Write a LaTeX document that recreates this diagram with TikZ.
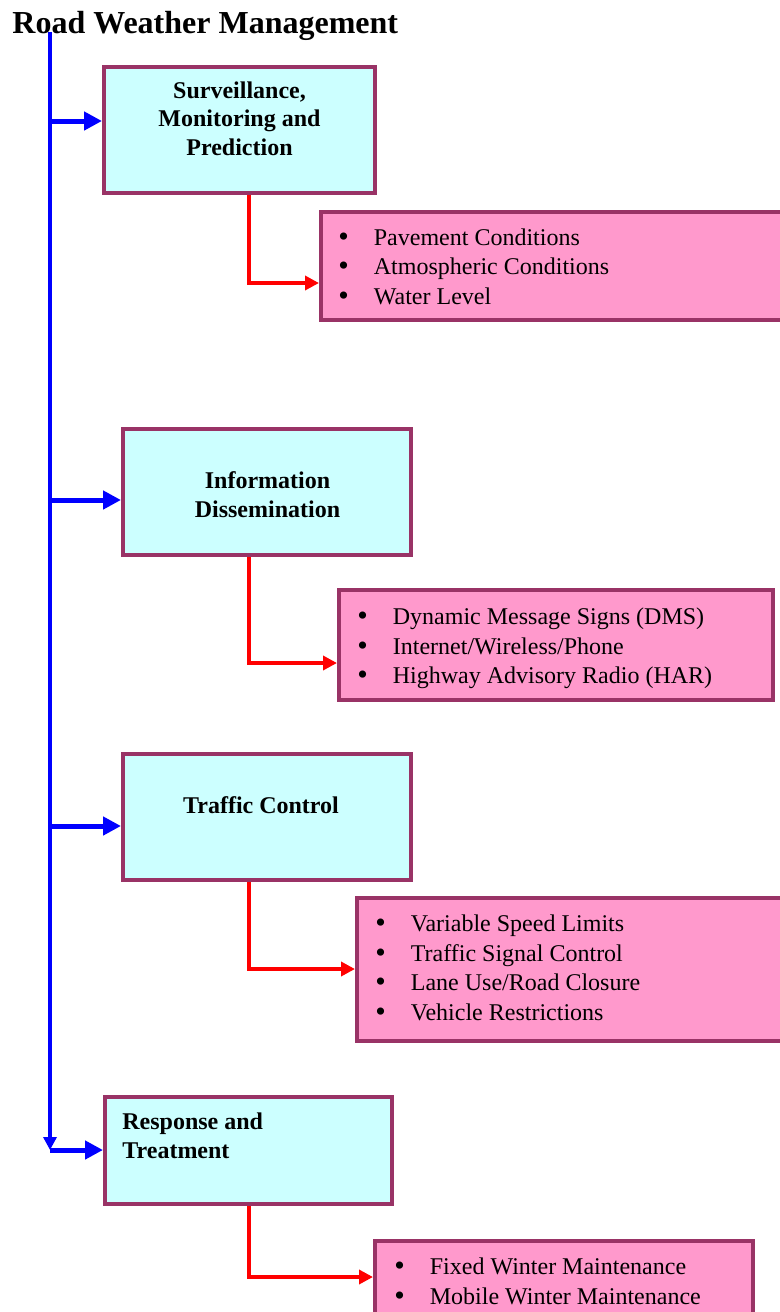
\documentclass[tikz,border=0pt]{standalone}
\usepackage{fontspec}
\setmainfont{Liberation Serif}
\usetikzlibrary{arrows.meta}

\definecolor{boxline}{HTML}{993366}
\definecolor{headfill}{HTML}{CCFFFF}
\definecolor{listfill}{HTML}{FF99CC}

\tikzset{
  headbox/.style={draw=boxline, fill=headfill, line width=2pt, inner sep=0pt},
  listbox/.style={draw=boxline, fill=listfill, line width=2pt, inner sep=0pt},
  headtext/.style={font=\fontsize{12}{14.25}\selectfont\bfseries, align=center, inner sep=0pt},
  listtext/.style={font=\fontsize{12}{14.75}\selectfont, align=left, anchor=base west, inner sep=0pt},
  spine/.style={blue, line width=2pt, -{Triangle[length=6.5pt,width=6.5pt]}},
  branch/.style={blue, line width=2.5pt, -{Triangle[length=9pt,width=9pt]}},
  feed/.style={red, line width=2pt, -{Triangle[length=7pt,width=7pt]}},
}
\newcommand{\itembul}{\makebox[17.75pt][l]{\raisebox{-0.7pt}{\fontsize{15}{15}\selectfont\textbullet}}}

\begin{document}
\begin{tikzpicture}[x=0.5pt,y=-0.5pt]
    \useasboundingbox (0,0) rectangle (780,1312);
    \clip (0,0) rectangle (780,1312);

    % title
    \node[font=\fontsize{16}{19}\selectfont\bfseries, anchor=base west, inner sep=0pt] (title) at (12,33) {Road Weather Management};

    % main boxes
    \node[headbox, minimum width=135.5pt, minimum height=63pt] (surv) at (239.5,130) {};
    \node[headbox, minimum width=144pt, minimum height=63pt] (info) at (267,492) {};
    \node[headbox, minimum width=144pt, minimum height=63pt] (traffic) at (267,817) {};
    \node[headbox, minimum width=143.5pt, minimum height=53.5pt] (resp) at (248.5,1150.5) {};

    % texts sit on the baseline of their last line
    \node[headtext, anchor=base] (survtext) at (239.5,155) {Surveillance,\\Monitoring and\\Prediction};
    \node[headtext, anchor=base] (infotext) at (267.5,517) {Information\\Dissemination};
    \node[headtext, anchor=base] (traffictext) at (261,813) {Traffic Control};
    \node[headtext, align=left, anchor=base west] (resptext) at (122,1158) {Response and\\Treatment};

    % item boxes
    \node[listbox, minimum width=242pt, minimum height=54pt] (survlist) at (563,266) {};
    \node[listbox, minimum width=217pt, minimum height=55pt] (infolist) at (556,645) {};
    \node[listbox, minimum width=224pt, minimum height=71.5pt] (trafficlist) at (581,969.5) {};
    \node[listbox, minimum width=189pt, minimum height=49.5pt] (resplist) at (564,1290.5) {};

    \node[listtext] (survitems) at (338,304) {\itembul Pavement Conditions\\\itembul Atmospheric Conditions\\\itembul Water Level};
    \node[listtext] (infoitems) at (357,683.5) {\itembul Dynamic Message Signs (DMS)\\\itembul Internet/Wireless/Phone\\\itembul Highway Advisory Radio (HAR)};
    \node[listtext] (trafficitems) at (375,1020) {\itembul Variable Speed Limits\\\itembul Traffic Signal Control\\\itembul Lane Use/Road Closure\\\itembul Vehicle Restrictions};
    \node[listtext] (respitems) at (394,1304) {\itembul Fixed Winter Maintenance\\\itembul Mobile Winter Maintenance};

    % blue spine and branches
    \coordinate (top) at (50,32);
    \coordinate (s1) at (50,121);
    \coordinate (s2) at (50,500);
    \coordinate (s3) at (50,826);
    \coordinate (s4) at (50,1150);
    \draw[spine] (top) -- (s4);
    \draw[branch] (s1) -- (s1 -| surv.west);
    \draw[branch] (s2) -- (s2 -| info.west);
    \draw[branch] (s3) -- (s3 -| traffic.west);
    \draw[branch] (s4) -- (s4 -| resp.west);

    % red feeds to the item boxes
    \coordinate (r1) at (248.5,283);
    \coordinate (r2) at (248.5,663);
    \coordinate (r3) at (248.5,969);
    \coordinate (r4) at (248.5,1277);
    \draw[feed] (surv.south -| r1) -- (r1) -- (r1 -| survlist.west);
    \draw[feed] (info.south -| r2) -- (r2) -- (r2 -| infolist.west);
    \draw[feed] (traffic.south -| r3) -- (r3) -- (r3 -| trafficlist.west);
    \draw[feed] (resp.south -| r4) -- (r4) -- (r4 -| resplist.west);

\end{tikzpicture}
\end{document}
